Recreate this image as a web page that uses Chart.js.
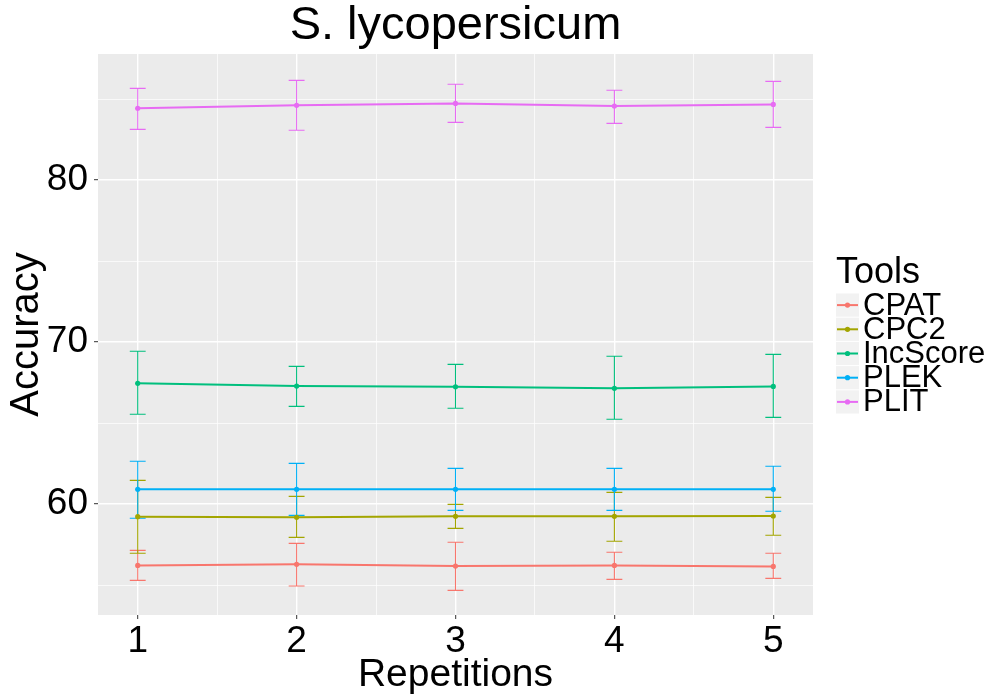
<!DOCTYPE html>
<html lang="en">
<head>
  <meta charset="UTF-8">
  <title>S. lycopersicum</title>
  <script src="https://cdn.jsdelivr.net/npm/chart.js"></script>
  <style>
    body {
      margin: 0;
      background: #ffffff;
    }
    #wrap {
      width: 1000px;
      height: 700px;
    }
  </style>
</head>
<body>
  <div id="wrap">
    <canvas id="myChart" width="1000" height="700"></canvas>
  </div>

  <script>
    // Data
    const repetitions = [1, 2, 3, 4, 5];
    const toolNames = ['CPAT', 'CPC2', 'IncScore', 'PLEK', 'PLIT'];
    const toolColors = ['#F8766D', '#A3A500', '#00BF7D', '#00B0F6', '#E76BF3'];

    const cpatMean = [56.21, 56.28, 56.17, 56.21, 56.15];
    const cpatLow  = [55.29, 54.94, 54.67, 55.35, 55.41];
    const cpatHigh = [57.14, 57.57, 57.64, 57.02, 56.96];

    const cpc2Mean = [59.22, 59.18, 59.24, 59.24, 59.26];
    const cpc2Low  = [56.96, 57.94, 58.50, 57.70, 58.07];
    const cpc2High = [61.46, 60.47, 59.98, 60.72, 60.41];

    const incMean = [67.45, 67.28, 67.24, 67.14, 67.26];
    const incLow  = [65.54, 66.03, 65.91, 65.23, 65.35];
    const incHigh = [69.43, 68.50, 68.62, 69.12, 69.24];

    const plekMean = [60.91, 60.91, 60.91, 60.91, 60.91];
    const plekLow  = [59.12, 59.30, 59.61, 59.61, 59.55];
    const plekHigh = [62.64, 62.51, 62.20, 62.20, 62.33];

    const plitMean = [84.43, 84.61, 84.73, 84.57, 84.67];
    const plitLow  = [83.13, 83.07, 83.56, 83.50, 83.25];
    const plitHigh = [85.66, 86.15, 85.91, 85.54, 86.09];

    const yTickLabels = [60, 70, 80];
    const yMinorTicks = [55, 65, 75, 85];
    const xMinorTicks = [1.5, 2.5, 3.5, 4.5];

    const means = [cpatMean, cpc2Mean, incMean, plekMean, plitMean];
    const lows = [cpatLow, cpc2Low, incLow, plekLow, plitLow];
    const highs = [cpatHigh, cpc2High, incHigh, plekHigh, plitHigh];

    const FONT = '"Liberation Sans", Arial, sans-serif';
    const capHalf = 0.05; // error bar cap half width in x units

    // grey panel behind the plot
    const panelBg = {
      id: 'panelBg',
      beforeDraw(chart) {
        const a = chart.chartArea;
        const c = chart.ctx;
        c.save();
        c.fillStyle = '#EBEBEB';
        c.fillRect(a.left, a.top, a.right - a.left, a.bottom - a.top);
        c.restore();
      }
    };

    // error bars drawn through the scales
    const errorBars = {
      id: 'errorBars',
      beforeDatasetsDraw(chart) {
        const c = chart.ctx;
        const xs = chart.scales.x;
        const ys = chart.scales.y;
        c.save();
        c.lineWidth = 1.1;
        for (let i = 0; i < toolNames.length; i++) {
          c.strokeStyle = toolColors[i];
          for (let j = 0; j < repetitions.length; j++) {
            const x = xs.getPixelForValue(repetitions[j]);
            const x0 = xs.getPixelForValue(repetitions[j] - capHalf);
            const x1 = xs.getPixelForValue(repetitions[j] + capHalf);
            const yl = ys.getPixelForValue(lows[i][j]);
            const yh = ys.getPixelForValue(highs[i][j]);
            c.beginPath();
            c.moveTo(x, yl); c.lineTo(x, yh);
            c.moveTo(x0, yl); c.lineTo(x1, yl);
            c.moveTo(x0, yh); c.lineTo(x1, yh);
            c.stroke();
          }
        }
        c.restore();
      }
    };

    // ggplot-like legend on the right
    const sideLegend = {
      id: 'sideLegend',
      afterDraw(chart) {
        const c = chart.ctx;
        const left = 836, rowTop = 293, rowH = 24.2, boxW = 23;
        c.save();
        c.fillStyle = '#000';
        c.font = '36px ' + FONT;
        c.textAlign = 'left';
        c.textBaseline = 'alphabetic';
        c.fillText('Tools', left, 283);
        c.font = '31px ' + FONT;
        c.textBaseline = 'middle';
        for (let i = 0; i < toolNames.length; i++) {
          const y0 = rowTop + i * rowH;
          const cy = y0 + rowH / 2;
          c.fillStyle = '#F2F2F2';
          c.fillRect(left, y0 + 0.5, boxW, rowH - 1);
          c.strokeStyle = toolColors[i];
          c.lineWidth = 2;
          c.beginPath();
          c.moveTo(left + 1, cy); c.lineTo(left + boxW - 1, cy);
          c.stroke();
          c.fillStyle = toolColors[i];
          c.beginPath();
          c.arc(left + boxW / 2, cy, 2.6, 0, Math.PI * 2);
          c.fill();
          c.fillStyle = '#000';
          c.fillText(toolNames[i], left + boxW + 4, cy + 1);
        }
        c.restore();
      }
    };

    const datasets = toolNames.map((name, i) => ({
      label: name,
      data: repetitions.map((r, j) => ({ x: r, y: means[i][j] })),
      borderColor: toolColors[i],
      backgroundColor: toolColors[i],
      borderWidth: 2,
      pointRadius: 2.6,
      pointBorderWidth: 0,
      pointBackgroundColor: toolColors[i],
      tension: 0,
      fill: false
    }));

    const ctx = document.getElementById('myChart').getContext('2d');
    const myChart = new Chart(ctx, {
      type: 'line',
      data: { datasets: datasets },
      plugins: [panelBg, errorBars, sideLegend],
      options: {
        responsive: false,
        animation: false,
        layout: {
          padding: { left: 0, right: 187, top: 0, bottom: 0 }
        },
        plugins: {
          legend: { display: false },
          tooltip: { enabled: false },
          title: {
            display: true,
            text: 'S. lycopersicum',
            fullSize: false,
            color: '#000',
            font: { family: FONT, size: 47, weight: 'normal', lineHeight: 1.0 },
            padding: { top: 3, bottom: 4 }
          }
        },
        scales: {
          x: {
            type: 'linear',
            min: 0.75,
            max: 5.25,
            afterBuildTicks(scale) {
              scale.ticks = repetitions.concat(xMinorTicks)
                .sort((a, b) => a - b)
                .map(v => ({ value: v }));
            },
            afterFit(scale) { scale.height = 85; },
            ticks: {
              autoSkip: false,
              maxRotation: 0,
              color: '#000',
              padding: 1,
              font: { family: FONT, size: 37 },
              callback: v => repetitions.includes(v) ? String(v) : ''
            },
            grid: {
              color: '#FFFFFF',
              lineWidth: c => repetitions.includes(c.tick.value) ? 1.4 : 0.7,
              tickColor: c => repetitions.includes(c.tick.value) ? '#333333' : 'rgba(0,0,0,0)',
              tickLength: 4,
              tickWidth: 1
            },
            border: { display: false },
            title: {
              display: true,
              text: 'Repetitions',
              color: '#000',
              font: { family: FONT, size: 39 },
              padding: { top: 0, bottom: 1 }
            }
          },
          y: {
            type: 'linear',
            min: 53.15,
            max: 87.78,
            afterBuildTicks(scale) {
              scale.ticks = yTickLabels.concat(yMinorTicks)
                .sort((a, b) => a - b)
                .map(v => ({ value: v }));
            },
            afterFit(scale) { scale.width = 98; },
            ticks: {
              color: '#000',
              padding: 6,
              font: { family: FONT, size: 37 },
              callback: v => yTickLabels.includes(v) ? String(v) : ''
            },
            grid: {
              color: '#FFFFFF',
              lineWidth: c => yTickLabels.includes(c.tick.value) ? 1.4 : 0.7,
              tickColor: c => yTickLabels.includes(c.tick.value) ? '#333333' : 'rgba(0,0,0,0)',
              tickLength: 4,
              tickWidth: 1
            },
            border: { display: false },
            title: {
              display: true,
              text: 'Accuracy',
              color: '#000',
              font: { family: FONT, size: 40 },
              padding: { top: 3, bottom: 0 }
            }
          }
        }
      }
    });
  </script>
</body>
</html>
